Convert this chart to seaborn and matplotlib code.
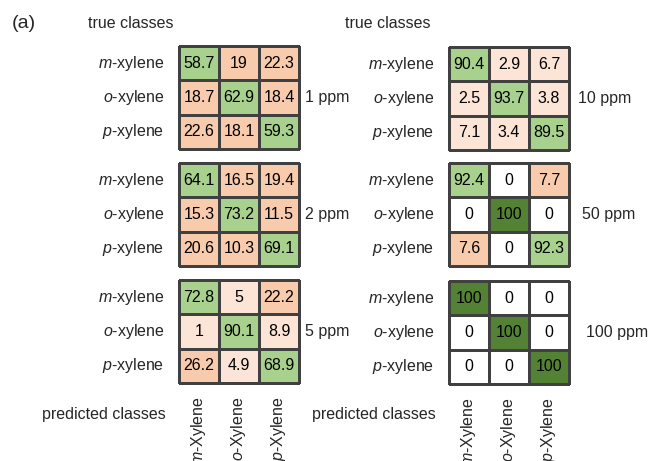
import numpy as np
import matplotlib.pyplot as plt
import seaborn as sns
from matplotlib.colors import ListedColormap

# confusion matrices (%) per concentration, rows = true, cols = predicted
conc_left = ['1 ppm', '2 ppm', '5 ppm']
conc_right = ['10 ppm', '50 ppm', '100 ppm']
true_labels = [r'$\it{m}$-xylene', r'$\it{o}$-xylene', r'$\it{p}$-xylene']
pred_labels = [r'$\it{m}$-Xylene', r'$\it{o}$-Xylene', r'$\it{p}$-Xylene']

cm_1 = [[58.7, 19, 22.3], [18.7, 62.9, 18.4], [22.6, 18.1, 59.3]]
cm_2 = [[64.1, 16.5, 19.4], [15.3, 73.2, 11.5], [20.6, 10.3, 69.1]]
cm_5 = [[72.8, 5, 22.2], [1, 90.1, 8.9], [26.2, 4.9, 68.9]]
cm_10 = [[90.4, 2.9, 6.7], [2.5, 93.7, 3.8], [7.1, 3.4, 89.5]]
cm_50 = [[92.4, 0, 7.7], [0, 100, 0], [7.6, 0, 92.3]]
cm_100 = [[100, 0, 0], [0, 100, 0], [0, 0, 100]]

# highlight class of each cell as drawn in the figure
# 0 none, 1 light orange, 2 orange, 3 green, 4 dark green
shade_1 = [[3, 2, 2], [2, 3, 2], [2, 2, 3]]
shade_2 = [[3, 2, 2], [2, 3, 2], [2, 2, 3]]
shade_5 = [[3, 1, 2], [1, 3, 1], [2, 1, 3]]
shade_10 = [[3, 1, 1], [1, 3, 1], [1, 1, 3]]
shade_50 = [[3, 0, 2], [0, 4, 0], [2, 0, 3]]
shade_100 = [[4, 0, 0], [0, 4, 0], [0, 0, 4]]

sns.set_style('white')
plt.rcParams['font.family'] = ['Liberation Sans', 'DejaVu Sans']
plt.rcParams['mathtext.fontset'] = 'custom'
plt.rcParams['mathtext.rm'] = 'Liberation Sans'
plt.rcParams['mathtext.it'] = 'Liberation Sans:italic'

W, H = 651, 461
FS = 11.5
cmap = ListedColormap(['#ffffff', '#fce4d6', '#f8cbad', '#a9d18e', '#548235'])


def draw_panel(fig, left, top, values, shade, conc, conc_dx, bottom_row):
    ax = fig.add_axes([left / W, 1 - (top + 103) / H, 120 / W, 103 / H])
    sns.heatmap(np.array(shade), annot=np.array(values), fmt='g',
                cmap=cmap, vmin=-0.5, vmax=4.5, cbar=False,
                linewidths=0.75, linecolor='#404040', ax=ax,
                annot_kws={'color': 'black', 'size': FS})
    ax.collections[0].set_clip_on(False)
    ax.set_yticklabels(true_labels, rotation=0, fontsize=FS)
    if bottom_row:
        ax.set_xticklabels(pred_labels, rotation=90, fontsize=FS)
    else:
        ax.set_xticklabels([])
    ax.tick_params(axis='y', left=False, pad=7)
    ax.tick_params(axis='x', bottom=False, pad=6)
    ax.text(1 + conc_dx, 0.5, conc, transform=ax.transAxes,
            ha='left', va='center', fontsize=FS)
    return ax


def main():
    fig = plt.figure(figsize=(W / 100, H / 100), dpi=100)
    tops = [46, 163, 280]
    left_sets = [(cm_1, shade_1), (cm_2, shade_2), (cm_5, shade_5)]
    right_sets = [(cm_10, shade_10), (cm_50, shade_50), (cm_100, shade_100)]
    right_dx = [0.075, 0.11, 0.14]
    for i in range(3):
        draw_panel(fig, 179, tops[i], *left_sets[i], conc_left[i],
                   0.05, i == 2)
        draw_panel(fig, 449, tops[i] + (1 if i != 1 else 0),
                   *right_sets[i], conc_right[i], right_dx[i], i == 2)

    fig.text(12 / W, 1 - 24 / H, '(a)', fontsize=14, va='center')
    fig.text(88 / W, 1 - 23 / H, 'true classes', fontsize=FS, va='center')
    fig.text(345 / W, 1 - 23 / H, 'true classes', fontsize=FS, va='center')
    fig.text(166 / W, 1 - 414 / H, 'predicted classes', fontsize=FS,
             ha='right', va='center')
    fig.text(436 / W, 1 - 414 / H, 'predicted classes', fontsize=FS,
             ha='right', va='center')
    fig.savefig('out.png', dpi=100)


if __name__ == '__main__':
    main()
